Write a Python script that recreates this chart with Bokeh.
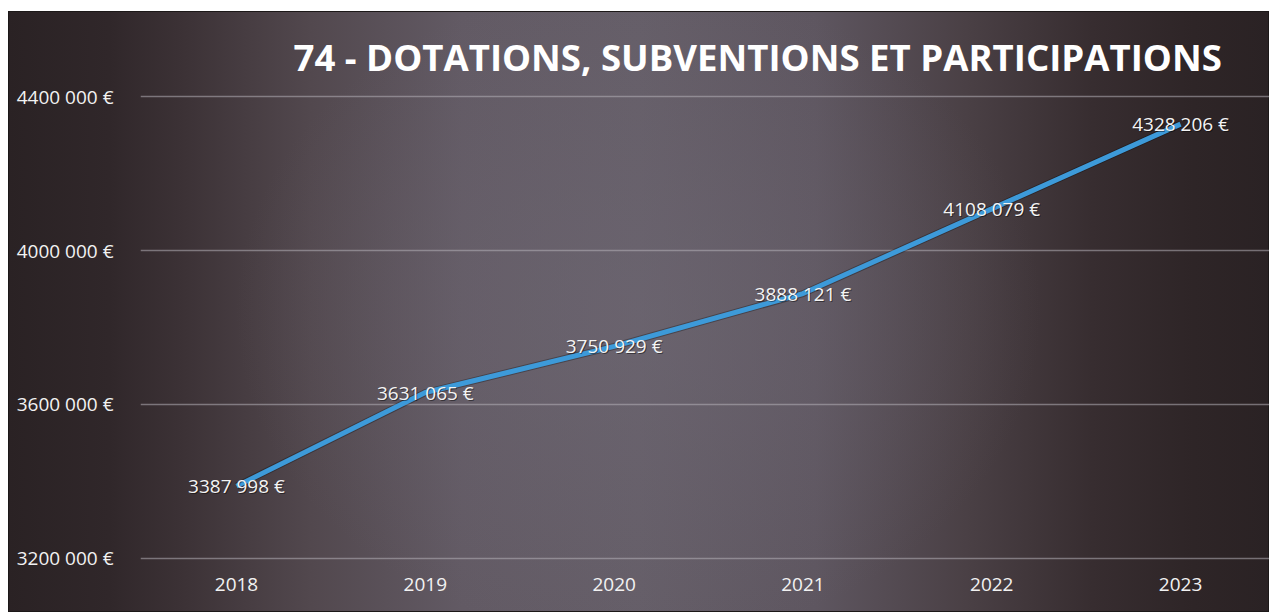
from bokeh.plotting import figure
from bokeh.models import Range1d, FixedTicker, ColumnDataSource
from bokeh.core.properties import value
from bokeh.embed import file_html
from bokeh.resources import INLINE

# ---- data ----
years = ["2018", "2019", "2020", "2021", "2022", "2023"]
amounts = [3387998, 3631065, 3750929, 3888121, 4108079, 4328206]
y_ticks = [3200000, 3600000, 4000000, 4400000]
y_tick_labels = ["3200 000 €", "3600 000 €", "4000 000 €", "4400 000 €"]
title_text = "74 - DOTATIONS, SUBVENTIONS ET PARTICIPATIONS"

FONT = "Open Sans"

def fmt(v):
    return f"{v // 1000} {v % 1000:03d} €"

xs = list(range(len(years)))
src = ColumnDataSource(dict(x=xs, y=amounts, label=[fmt(v) for v in amounts]))

p = figure(width=1261, height=601, output_backend="svg", toolbar_location=None,
           x_range=Range1d(-0.5085, 5.471), y_range=Range1d(3194800, 4405200),
           min_border_left=132, min_border_right=0, min_border_top=83, min_border_bottom=52,
           title=title_text)

p.background_fill_alpha = 0
p.border_fill_alpha = 0
p.outline_line_color = None
p.styles = {
    "margin": "11px 0 0 8px",
    "outline": "1px solid #1c1818",
    "outline-offset": "-1px",
    "background": ("radial-gradient(ellipse 32% 55% at 50% 50%, rgba(112,106,118,0.45) 0%, rgba(112,106,118,0) 100%), "
                   "linear-gradient(to right, #2a2224 0%, #30272a 8%, #3c3236 14%, #52484e 24%, #625a64 36%, "
                   "#655e68 50%, #5e5660 64%, #4a4045 76%, #372d30 86%, #2e2527 94%, #2a2224 100%)"),
}

# title
p.title.text_font = FONT
p.title.text_font_style = "bold"
p.title.text_font_size = "36.6px"
p.title.text_color = "#ffffff"
p.title.align = "left"
p.title.offset = 153
p.title.standoff = 26

# axes
p.xaxis.ticker = FixedTicker(ticks=xs)
p.xaxis.major_label_overrides = {i: y for i, y in enumerate(years)}
p.yaxis.ticker = FixedTicker(ticks=y_ticks)
p.yaxis.major_label_overrides = {t: l for t, l in zip(y_ticks, y_tick_labels)}
for ax in (p.xaxis, p.yaxis):
    ax.axis_line_color = None
    ax.major_tick_line_color = None
    ax.minor_tick_line_color = None
    ax.major_tick_out = 0
    ax.major_tick_in = 0
    ax.major_label_text_color = "#f2f2f2"
    ax.major_label_text_font = FONT
    ax.major_label_text_font_size = "19px"
p.xaxis.major_label_standoff = 17
p.yaxis.major_label_standoff = 27

p.xgrid.grid_line_color = None
p.ygrid.grid_line_color = "#b4b0b8"
p.ygrid.grid_line_alpha = 0.55
p.ygrid.grid_line_width = 1.5

# line with shadow
p.line("x", "y", source=src, line_color="#000000", line_alpha=0.3, line_width=7)
p.line("x", "y", source=src, line_color="#3d9ad9", line_width=5)

# data labels
p.text("x", "y", text="label", source=src, text_align="center", text_baseline="middle",
       text_font=value(FONT), text_font_size="19px", text_color="#000000", text_alpha=0.45,
       x_offset=1, y_offset=1)
p.text("x", "y", text="label", source=src, text_align="center", text_baseline="middle",
       text_font=value(FONT), text_font_size="19px", text_color="#f4f4f4")

open("out.html", "w").write(file_html(p, INLINE))
